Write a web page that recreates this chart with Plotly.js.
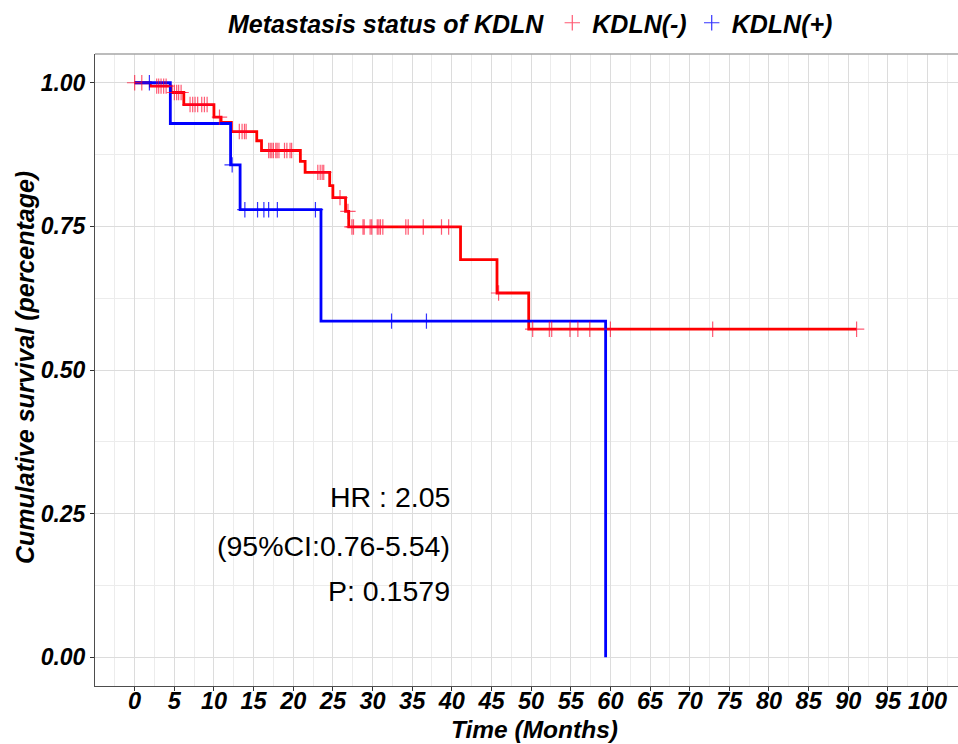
<!DOCTYPE html>
<html>
<head>
<meta charset="utf-8">
<script src="https://cdn.plot.ly/plotly-3.0.1.min.js"></script>
<style>html,body{margin:0;padding:0;background:#fff;}#chart{width:958px;height:744px;}</style>
</head>
<body>
<div id="chart"></div>
<script>
// Kaplan-Meier step data
const redTimes = [0, 1.98, 4.6, 6.2, 10.0, 10.9, 12.2, 15.4, 16.0, 20.9, 21.5, 24.6, 25.0, 26.6, 27.0, 41.1, 45.7, 49.7, 91.05];
const redSurv  = [1, 0.994, 0.983, 0.962, 0.940, 0.931, 0.915, 0.899, 0.882, 0.863, 0.844, 0.821, 0.800, 0.776, 0.749, 0.692, 0.634, 0.571, 0.571];
const redCensor = [0, 0.9, 2.78, 3.03, 3.33, 3.66, 3.97, 5.01, 5.30, 5.55, 5.86, 6.99, 7.32, 7.62, 7.95, 8.46, 8.80, 9.14,
  10.7, 13.2, 13.55, 13.85, 14.06, 16.9, 17.1, 17.3, 17.5, 17.8, 17.97, 18.2, 18.9, 19.2, 19.6, 19.8,
  23.1, 23.4, 23.65, 23.85, 25.9, 26.9, 27.4, 27.6, 28.8, 28.95, 29.7, 29.9, 30.6, 30.8, 31.0, 31.3,
  34.2, 34.5, 36.4, 38.7, 39.6, 45.9, 50.2, 52.3, 52.6, 54.9, 55.9, 57.4, 60.0, 72.9, 91.05];

const blueTimes = [0, 4.5, 12.1, 13.3, 23.5, 59.4];
const blueSurv  = [1, 0.929, 0.857, 0.779, 0.585, 0];
const blueCensor = [1.86, 12.3, 13.9, 15.5, 16.3, 16.9, 18.0, 22.8, 32.4, 36.8];

const groupNames = ["KDLN(-)", "KDLN(+)"];
const legendTitle = "Metastasis status of KDLN";
const xTitle = "Time (Months)";
const yTitle = "Cumulative survival (percentage)";
const xTicks = [0,5,10,15,20,25,30,35,40,45,50,55,60,65,70,75,80,85,90,95,100];
const yTicks = [0, 0.25, 0.5, 0.75, 1];
const yTickText = ["0.00", "0.25", "0.50", "0.75", "1.00"];
const annoLines = ["HR : 2.05", "(95%CI:0.76-5.54)", "P: 0.1579"];
const annoY = [0.2795, 0.194, 0.116];

function survAt(times, surv, t) {
  let s = surv[0];
  for (let i = 0; i < times.length; i++) { if (times[i] <= t) s = surv[i]; }
  return s;
}

const FONT = "Liberation Sans, Arial, sans-serif";
const RED = "#ff0000", BLUE = "#0000ff";

const traces = [
  {x: redTimes, y: redSurv, mode: "lines", line: {shape: "hv", color: RED, width: 2.8}, showlegend: false, legendgroup: "r", hoverinfo: "skip"},
  {x: blueTimes, y: blueSurv, mode: "lines", line: {shape: "hv", color: BLUE, width: 2.8}, showlegend: false, legendgroup: "b", hoverinfo: "skip"},
  {x: redCensor, y: redCensor.map(t => survAt(redTimes, redSurv, t)), mode: "markers", name: groupNames[0], legendgroup: "r",
   marker: {symbol: "cross-thin-open", size: 11, color: "rgba(255,0,40,0.65)", line: {color: "rgba(255,0,40,0.65)", width: 1.2}}},
  {x: blueCensor, y: blueCensor.map(t => survAt(blueTimes, blueSurv, t)), mode: "markers", name: groupNames[1], legendgroup: "b",
   marker: {symbol: "cross-thin-open", size: 11, color: "rgba(0,0,255,0.8)", line: {color: "rgba(0,0,255,0.8)", width: 1.2}}},
  // invisible trace to activate the tick-mark-only overlay axis
  {x: [null], y: [null], xaxis: "x2", yaxis: "y", mode: "markers", showlegend: false, hoverinfo: "skip"}
];

const tickFont = {family: FONT, size: 23.5, color: "#000", weight: "bold", style: "italic"};
const yTickFont = {family: FONT, size: 23, color: "#000", weight: "bold", style: "italic"};
const titleFont = {family: FONT, size: 25, color: "#000", weight: "bold", style: "italic"};
const xTitleFont = {family: FONT, size: 24.5, color: "#000", weight: "bold", style: "italic"};

const layout = {
  width: 958, height: 744,
  margin: {l: 95, r: 0, t: 54, b: 58, pad: 0},
  paper_bgcolor: "#fff", plot_bgcolor: "#fff",
  xaxis: {
    range: [-5, 103.84], tickmode: "array", tickvals: xTicks, ticktext: xTicks.map(String),
    ticks: "", ticklabelstandoff: -6,
    showline: true, linecolor: "#4d4d4d", linewidth: 1,
    showgrid: true, gridcolor: "#dcdcdc", gridwidth: 1, zeroline: false,
    minor: {dtick: 2.5, tick0: 0, showgrid: true, gridcolor: "#ececec", gridwidth: 1, ticks: ""},
    tickfont: tickFont
  },
  xaxis2: {
    overlaying: "x", matches: "x", range: [-5, 103.84], tickmode: "array", tickvals: xTicks,
    showticklabels: false, ticks: "outside", ticklen: 4, tickcolor: "#333", tickwidth: 1,
    showgrid: false, zeroline: false, showline: false, side: "bottom"
  },
  yaxis: {
    range: [-0.05, 1.05], tickmode: "array", tickvals: yTicks, ticktext: yTickText,
    ticks: "outside", ticklen: 4, tickcolor: "#333", tickwidth: 1,
    showline: true, linecolor: "#4d4d4d", linewidth: 1,
    showgrid: true, gridcolor: "#dcdcdc", gridwidth: 1, zeroline: false,
    minor: {dtick: 0.125, tick0: 0, showgrid: true, gridcolor: "#ececec", gridwidth: 1, ticks: ""},
    tickfont: yTickFont
  },
  legend: {
    orientation: "h", xref: "container", yref: "container",
    x: 226/958, xanchor: "left", y: 1, yanchor: "top",
    font: titleFont, bgcolor: "rgba(0,0,0,0)",
    title: {text: legendTitle, font: titleFont, side: "left"},
    itemwidth: 30, tracegroupgap: 0
  },
  shapes: [{type: "line", xref: "paper", yref: "paper", x0: 0, x1: 1, y0: 1, y1: 1, line: {color: "#a6a6a6", width: 1.3}}],
  annotations: annoLines.map((t, i) => ({
    text: t, x: 40, y: annoY[i], xref: "x", yref: "y", xanchor: "right", yanchor: "middle",
    showarrow: false, font: {family: FONT, size: 28.5, color: "#000"}
  })).concat([
    {text: xTitle, xref: "paper", yref: "paper", x: (534 - 95) / 863, y: -(729.5 - 686) / 632,
     xanchor: "center", yanchor: "middle", showarrow: false, font: xTitleFont},
    {text: yTitle, xref: "paper", yref: "paper", x: -(95 - 25) / 863, y: (686 - 368) / 632, textangle: -90,
     xanchor: "center", yanchor: "middle", showarrow: false, font: titleFont}
  ])
};

Plotly.newPlot("chart", traces, layout, {displayModeBar: false, staticPlot: true});
</script>
</body>
</html>
